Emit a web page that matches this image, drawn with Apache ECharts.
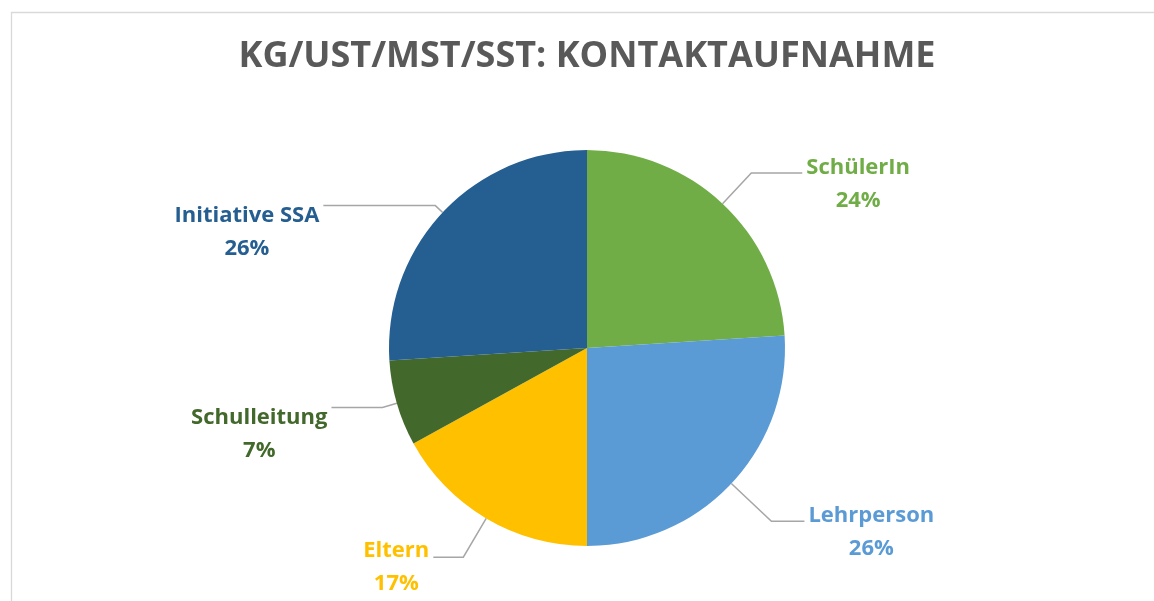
<!DOCTYPE html>
<html>
<head>
<meta charset="utf-8">
<script src="https://cdn.jsdelivr.net/npm/echarts@6/dist/echarts.min.js"></script>
<style>
html,body{margin:0;padding:0;background:#fff;}
#chart{width:1154px;height:601px;}
</style>
</head>
<body>
<div id="chart"></div>
<script>
// ---- data ----
const titleText = 'KG/UST/MST/SST: KONTAKTAUFNAHME';
const categories = ['SchülerIn', 'Lehrperson', 'Eltern', 'Schulleitung', 'Initiative SSA'];
const values = [24, 26, 17, 7, 26];

// ---- styles ----
const colors = ['#70AD47', '#5B9BD5', '#FFC000', '#43682B', '#255E91'];
const lineLen1 = [42, 55, 45, 15, 10];
const lineLen2 = [51, 33, 30, 51, 112];
const labelPadTop = [23, 23, 21, 53, 53];

const chart = echarts.init(document.getElementById('chart'), null, {renderer: 'canvas'});

const data = categories.map((name, i) => ({
  name: name,
  value: values[i],
  itemStyle: {color: colors[i]},
  label: {color: colors[i], padding: [labelPadTop[i], 0, 0, 0]},
  labelLine: {length: lineLen1[i], length2: lineLen2[i]}
}));

chart.setOption({
  animation: false,
  backgroundColor: '#ffffff',
  title: {
    text: titleText,
    left: 587,
    textAlign: 'center',
    top: 39,
    padding: 0,
    textStyle: {
      fontFamily: '"Open Sans"',
      fontWeight: 'bold',
      fontSize: 36,
      color: '#595959'
    }
  },
  graphic: [{
    type: 'rect',
    shape: {x: 11.5, y: 12.5, width: 1160, height: 620},
    style: {fill: 'none', stroke: '#D9D9D9', lineWidth: 1.3},
    silent: true,
    z: -1
  }],
  series: [{
    type: 'pie',
    center: [587, 348],
    radius: 198,
    startAngle: 90,
    clockwise: true,
    avoidLabelOverlap: false,
    data: data,
    label: {
      show: true,
      position: 'outside',
      distanceToLabelLine: 4,
      formatter: p => '{n|' + p.name + '}\n{p|' + Math.round(p.percent) + '%}',
      fontFamily: '"Open Sans"',
      fontWeight: 'bold',
      fontSize: 22,
      rich: {
        n: {align: 'center', fontFamily: '"Open Sans"', fontWeight: 'bold', fontSize: 22, lineHeight: 33},
        p: {align: 'center', fontFamily: '"Open Sans"', fontWeight: 'bold', fontSize: 22, lineHeight: 33}
      }
    },
    labelLine: {
      show: true,
      smooth: false,
      lineStyle: {color: '#A6A6A6', width: 1.5}
    },
    itemStyle: {borderWidth: 0},
    emphasis: {disabled: true}
  }]
});
</script>
</body>
</html>
